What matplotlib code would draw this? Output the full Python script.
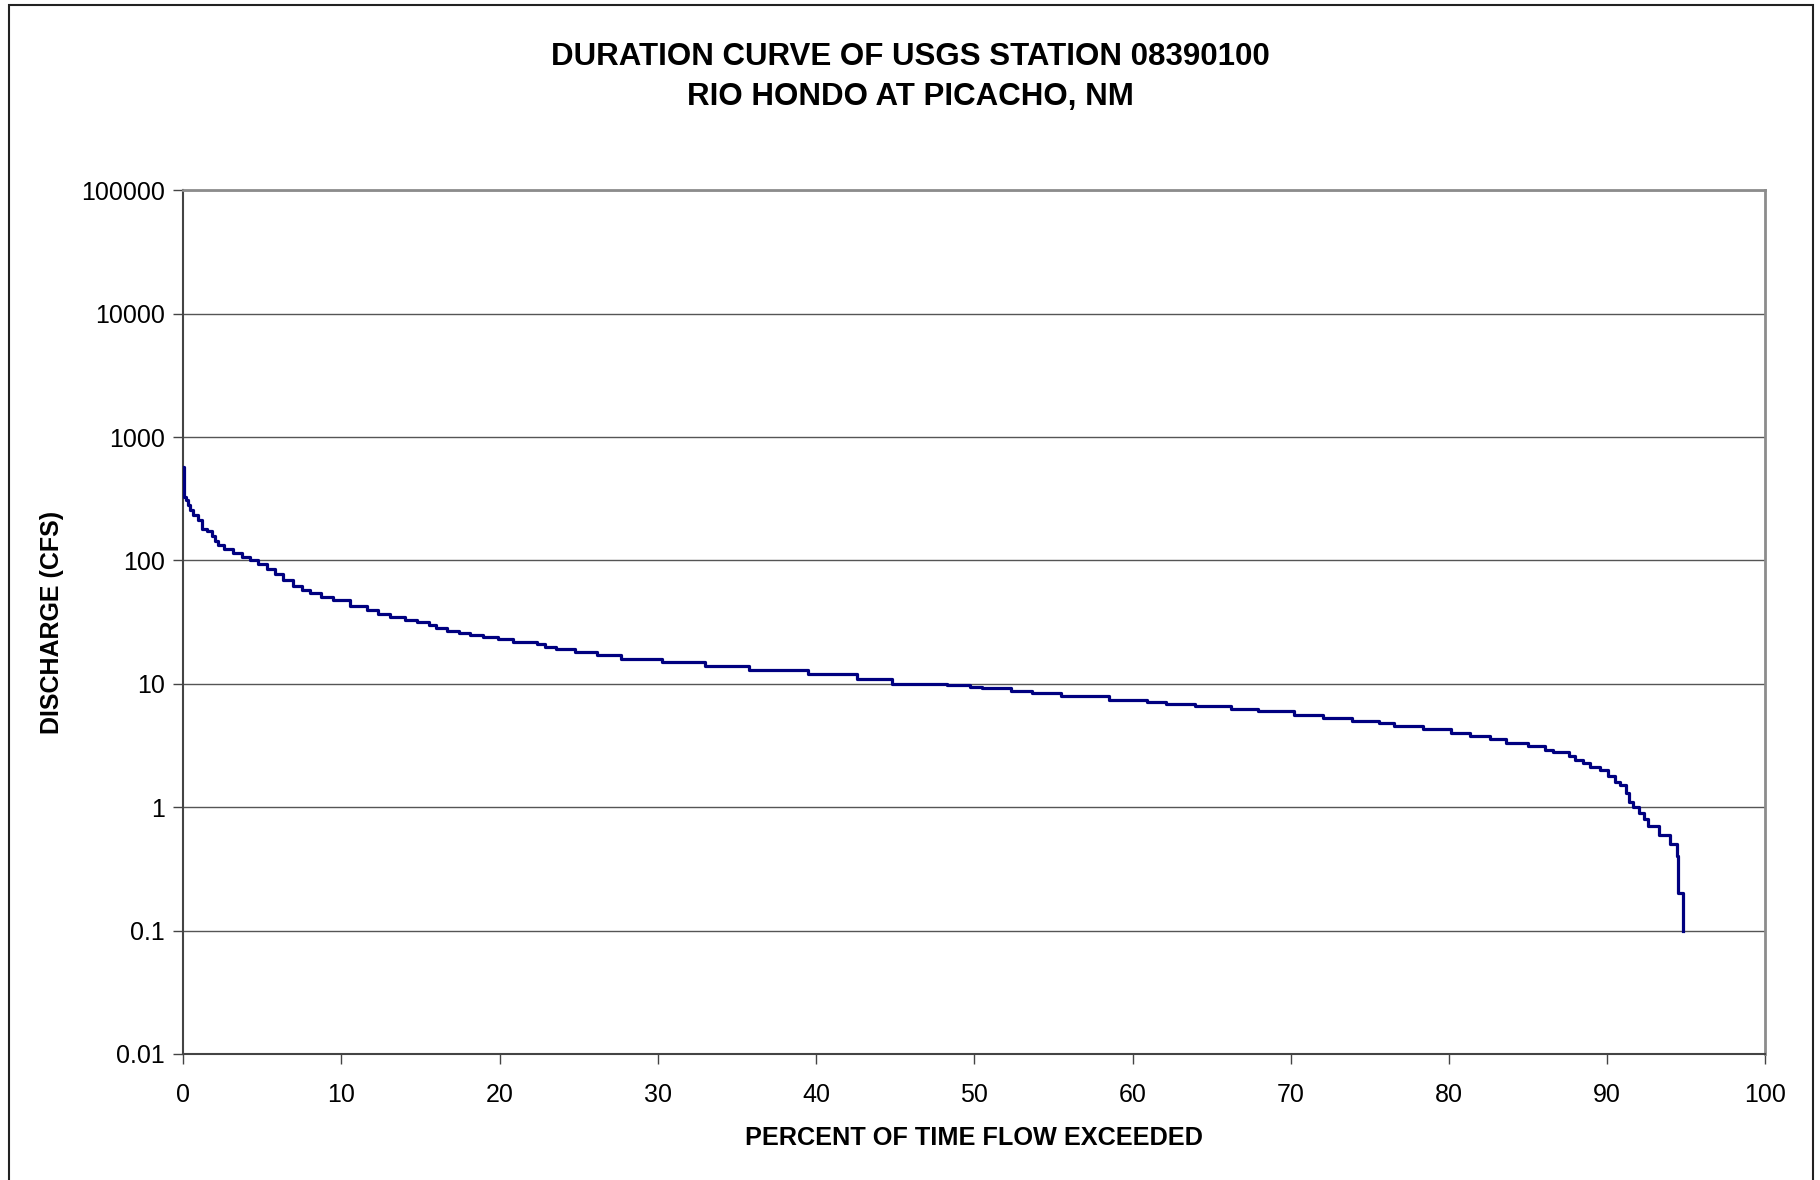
import matplotlib
matplotlib.use('Agg')
import matplotlib.pyplot as plt
from matplotlib.patches import Rectangle

# flow duration curve, Rio Hondo at Picacho (USGS 08390100)
# percent of time a discharge is equalled or exceeded, and that discharge in cfs
pct_exceeded = [
    0.0, 0.05, 0.15, 0.3, 0.42, 0.63, 0.95, 1.16, 1.48, 1.79,
    2.0, 2.21, 2.6, 3.16, 3.7, 4.22, 4.7, 5.27, 5.8, 6.33,
    6.96, 7.5, 8.01, 8.7, 9.49, 10.54, 11.6, 12.3, 13.07, 14.0,
    14.76, 15.5, 16.0, 16.65, 17.4, 18.12, 18.97, 19.9, 20.84, 22.36,
    22.86, 23.56, 24.76, 26.13, 27.65, 30.28, 32.98, 35.78, 39.51, 42.6,
    44.78, 48.26, 49.73, 50.5, 52.3, 53.65, 55.48, 58.5, 60.91, 62.12,
    63.95, 66.22, 67.93, 70.2, 72.04, 73.87, 75.58, 76.53, 78.36, 80.13,
    81.36, 82.57, 83.6, 85.0, 86.1, 86.6, 87.6, 87.95, 88.5, 88.9,
    89.55, 90.07, 90.5, 90.8, 91.2, 91.4, 91.6, 92.0, 92.3, 92.6,
    93.3, 93.95, 94.4, 94.5, 94.8,
]
discharge_cfs = [
    570, 330, 310, 280, 257, 235, 213, 180, 172, 157,
    145, 134, 125, 115, 107, 100, 93, 85, 77, 70,
    62, 58, 55, 51, 47.5, 43, 40, 37, 35, 33,
    32, 30, 28.5, 27, 26, 25, 24, 23, 22, 21,
    20, 19, 18, 17, 16, 15, 14, 13, 12, 11,
    10, 9.8, 9.5, 9.25, 8.8, 8.4, 7.9, 7.4, 7.1, 6.9,
    6.6, 6.25, 6.0, 5.6, 5.3, 5.0, 4.8, 4.55, 4.3, 4.0,
    3.8, 3.6, 3.33, 3.13, 2.9, 2.8, 2.6, 2.4, 2.3, 2.1,
    2.0, 1.8, 1.6, 1.5, 1.3, 1.1, 1.0, 0.9, 0.8, 0.7,
    0.6, 0.5, 0.4, 0.2, 0.1,
]

y_ticks = [0.01, 0.1, 1, 10, 100, 1000, 10000, 100000]
y_tick_labels = ['0.01', '0.1', '1', '10', '100', '1000', '10000', '100000']
x_ticks = list(range(0, 101, 10))

plt.rcParams['font.family'] = ['Liberation Sans', 'DejaVu Sans']

fig = plt.figure(figsize=(18.2, 11.8), dpi=100)
ax = fig.add_axes([0.1007, 0.1069, 0.8693, 0.7317])

ax.plot(pct_exceeded, discharge_cfs, color='#000080', linewidth=2.3,
        drawstyle='steps-post', zorder=3)

ax.set_yscale('log')
ax.set_xlim(0, 100)
ax.set_ylim(0.01, 100000)
ax.set_yticks(y_ticks)
ax.set_yticklabels(y_tick_labels)
ax.yaxis.set_minor_locator(matplotlib.ticker.NullLocator())
ax.set_xticks(x_ticks)

ax.grid(True, axis='y', color='#555555', linewidth=1.0)
ax.set_axisbelow(True)

ax.tick_params(axis='both', which='major', direction='out', length=7,
               width=1.0, color='#444444', labelsize=18)
ax.tick_params(axis='y', pad=6.5)
ax.tick_params(axis='x', pad=14)

for side in ['left', 'bottom']:
    ax.spines[side].set_color('#444444')
    ax.spines[side].set_linewidth(1.5)
for side in ['top', 'right']:
    ax.spines[side].set_color('#8c8c8c')
    ax.spines[side].set_linewidth(2.0)

fig.text(0.5, 0.9445, 'DURATION CURVE OF USGS STATION 08390100',
         ha='center', va='baseline', fontsize=22.5, fontweight='bold')
fig.text(0.5, 0.9110, 'RIO HONDO AT PICACHO, NM',
         ha='center', va='baseline', fontsize=22.5, fontweight='bold')
fig.text(0.5354, 0.0297, 'PERCENT OF TIME FLOW EXCEEDED',
         ha='center', va='baseline', fontsize=18.2, fontweight='bold')
fig.text(0.0286, 0.4729, 'DISCHARGE (CFS)', rotation=90,
         ha='center', va='center', fontsize=18, fontweight='bold')

# chart-area border
fig.patches.append(Rectangle((0.0051, -0.02), 0.9911, 1.0158,
                             transform=fig.transFigure, fill=False,
                             edgecolor='#222222', linewidth=1.5))

fig.savefig('out.png', dpi=100, facecolor='white')
